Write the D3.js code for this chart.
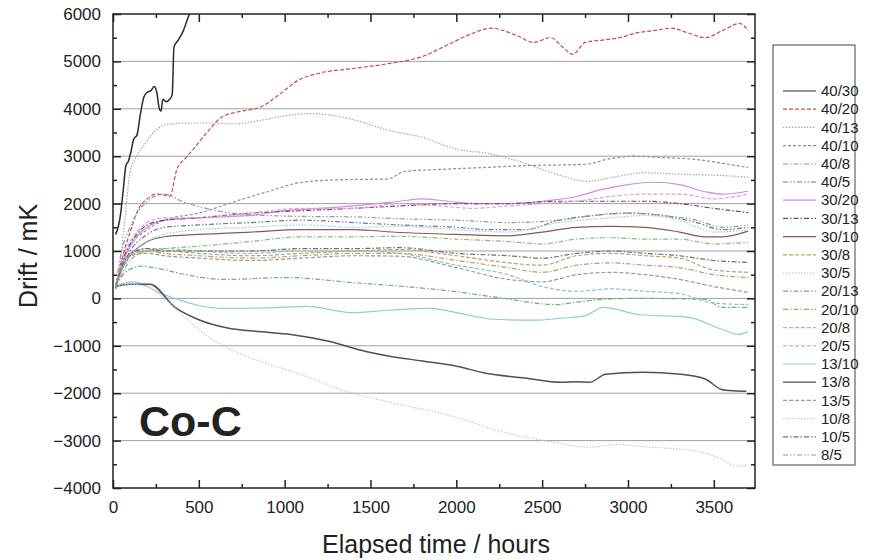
<!DOCTYPE html>
<html>
<head>
<meta charset="utf-8">
<script src="https://cdn.jsdelivr.net/npm/d3@7"></script>
<style>
  body { margin: 0; background: #fff; }
  text { font-family: "Liberation Sans", Arial, sans-serif; fill: #222; }
</style>
</head>
<body>
<div id="chart"></div>
<script>
// legend labels, in legend order
const labels = ["40/30", "40/20", "40/13", "40/10", "40/8", "40/5", "30/20", "30/13", "30/10", "30/8",
  "30/5", "20/13", "20/10", "20/8", "20/5", "13/10", "13/8", "13/5", "10/8", "10/5", "8/5"];

const xTicks = [0, 500, 1000, 1500, 2000, 2500, 3000, 3500];
const yTicks = [-4000, -3000, -2000, -1000, 0, 1000, 2000, 3000, 4000, 5000, 6000];

// [hours, drift mK]
const s40_30 = [[15,1350],[30,1500],[45,1800],[60,2300],[75,2800],[90,2900],[105,3100],[120,3350],[140,3450],[160,3900],[180,4250],[200,4350],[220,4380],[240,4470],[255,4350],[270,4000],[280,3950],[290,4200],[310,4150],[330,4200],[345,4300],[355,5300],[380,5450],[410,5650],[430,5850],[445,6000],[460,6150]];
const s40_20 = [[15,200],[50,800],[100,1400],[150,1900],[200,2100],[250,2200],[300,2180],[330,2150],[372,2720],[420,2950],[466,3140],[547,3500],[640,3840],[750,3950],[855,4030],[950,4250],[1088,4620],[1200,4750],[1400,4850],[1600,4950],[1800,5100],[1950,5350],[2100,5600],[2200,5700],[2350,5550],[2450,5400],[2550,5500],[2620,5300],[2680,5150],[2750,5400],[2850,5450],[2950,5500],[3050,5600],[3150,5650],[3250,5700],[3350,5600],[3450,5500],[3550,5650],[3650,5800],[3700,5650]];
const s40_13 = [[15,200],[40,700],[70,1700],[99,2650],[130,2950],[175,3200],[256,3570],[314,3670],[450,3700],[600,3700],[700,3680],[850,3750],[1000,3850],[1150,3900],[1300,3850],[1450,3720],[1600,3550],[1800,3400],[2000,3150],[2200,3050],[2400,2850],[2600,2600],[2760,2470],[2900,2550],[3100,2650],[3300,2620],[3500,2600],[3700,2560]];
const s40_10 = [[15,200],[50,700],[100,1100],[200,1450],[300,1650],[500,1800],[750,2090],[900,2250],[1100,2450],[1300,2500],[1600,2520],[1700,2680],[1900,2720],[2150,2760],[2400,2800],[2750,2830],[2900,2950],[3030,3000],[3200,2970],[3400,2930],[3550,2850],[3700,2760]];
const s40_8 = [[15,250],[50,500],[100,800],[200,1000],[300,1050],[500,1100],[800,1200],[1100,1300],[1400,1300],[1670,1310],[2000,1250],[2300,1200],[2500,1150],[2700,1250],[2900,1280],[3100,1250],[3300,1250],[3500,1150],[3700,1180]];
const s40_5 = [[15,250],[50,650],[100,1000],[200,1350],[300,1500],[500,1550],[800,1600],[1100,1650],[1400,1600],[1670,1550],[2000,1500],[2200,1450],[2400,1450],[2600,1650],[2800,1750],[3000,1800],[3200,1750],[3400,1600],[3550,1450],[3700,1500]];
const s30_20 = [[15,250],[50,700],[100,1100],[150,1350],[200,1500],[300,1650],[500,1700],[800,1750],[1000,1850],[1200,1900],[1400,1950],[1670,2050],[1800,2100],[1950,2050],[2100,2000],[2300,2000],[2500,2050],[2700,2150],[2850,2300],[3000,2400],[3150,2450],[3300,2400],[3450,2250],[3550,2200],[3700,2260]];
const s30_13 = [[15,250],[50,750],[100,1150],[150,1400],[200,1550],[300,1650],[500,1700],[800,1800],[1100,1850],[1400,1900],[1670,1950],[2000,2000],[2300,2000],[2600,2050],[2900,2050],[3100,2050],[3300,2000],[3500,1900],[3700,1810]];
const s30_10 = [[15,250],[50,600],[100,900],[200,1200],[300,1300],[500,1350],[800,1400],[1100,1450],[1400,1450],[1670,1390],[2000,1350],[2300,1320],[2500,1400],[2700,1500],[2900,1520],[3100,1500],[3300,1400],[3450,1300],[3550,1300],[3700,1420]];
const s30_8 = [[15,250],[50,600],[100,900],[200,1000],[300,1000],[500,950],[800,900],[1100,950],[1400,1000],[1670,1030],[2000,900],[2300,750],[2500,700],[2700,900],[2900,950],[3100,900],[3300,850],[3500,600],[3700,550]];
const s30_5 = [[15,250],[50,600],[100,900],[200,1200],[300,1350],[500,1450],[800,1500],[1100,1550],[1400,1500],[1670,1520],[2000,1450],[2300,1400],[2600,1600],[2900,1700],[3100,1750],[3300,1650],[3500,1400],[3700,1450]];
const s20_13 = [[15,250],[60,500],[120,650],[163,680],[250,640],[400,520],[646,400],[1013,440],[1200,400],[1373,340],[1700,250],[1979,150],[2241,20],[2578,-130],[2700,-80],[2846,-20],[3061,0],[3452,-20],[3545,-190],[3700,-190]];
const s20_10 = [[15,250],[50,650],[100,950],[200,1000],[300,950],[500,900],[800,850],[1100,900],[1400,950],[1670,950],[2000,800],[2300,650],[2500,550],[2700,700],[2900,750],[3100,700],[3300,650],[3500,500],[3700,440]];
const s20_8 = [[15,250],[50,650],[100,950],[200,1050],[300,1050],[500,1000],[800,950],[1100,1000],[1400,1000],[1670,950],[2000,700],[2300,500],[2500,250],[2700,150],[2900,200],[3100,150],[3300,100],[3500,-100],[3700,-130]];
const s20_5 = [[15,250],[50,800],[100,1200],[150,1450],[200,1600],[300,1700],[500,1700],[800,1800],[1100,1900],[1400,1900],[1670,2000],[1900,1950],[2100,1900],[2300,1950],[2500,2000],[2700,2050],[2900,2150],[3100,2200],[3300,2200],[3500,2100],[3700,2200]];
const s13_10 = [[15,250],[60,320],[120,350],[200,250],[280,100],[361,0],[500,-150],[646,-210],[900,-200],[1129,-170],[1397,-300],[1600,-250],[1857,-210],[2000,-300],[2218,-440],[2462,-460],[2600,-420],[2747,-370],[2858,-190],[3061,-340],[3353,-400],[3545,-650],[3644,-760],[3700,-700]];
const s13_8 = [[15,250],[100,300],[215,300],[361,-190],[500,-450],[675,-630],[850,-700],[1036,-760],[1250,-900],[1473,-1120],[1612,-1220],[1800,-1320],[2002,-1430],[2171,-1580],[2400,-1680],[2608,-1770],[2700,-1760],[2776,-1770],[2870,-1600],[3085,-1560],[3306,-1600],[3450,-1700],[3545,-1920],[3620,-1950],[3690,-1960]];
const s13_5 = [[15,250],[50,600],[100,900],[200,950],[300,900],[500,850],[800,800],[1100,850],[1400,900],[1670,890],[2000,650],[2300,400],[2500,350],[2700,500],[2900,550],[3100,500],[3300,400],[3500,250],[3700,130]];
const s10_8 = [[15,250],[100,300],[200,250],[285,40],[407,-360],[550,-800],[646,-1010],[722,-1140],[900,-1380],[1059,-1560],[1373,-1980],[1612,-2190],[1979,-2490],[2264,-2810],[2578,-3040],[2776,-3140],[2945,-3080],[3061,-3120],[3405,-3230],[3550,-3400],[3620,-3540],[3690,-3520]];
const s10_5 = [[15,250],[50,650],[100,950],[200,1050],[300,1000],[500,1000],[800,1000],[1100,1050],[1400,1050],[1670,1070],[2000,950],[2300,900],[2500,850],[2700,950],[2900,1000],[3100,950],[3300,900],[3500,800],[3700,760]];
const s8_5 = [[15,250],[50,1000],[100,1500],[150,1850],[200,2050],[300,2200],[400,2050],[565,1880],[780,1770],[1100,1730],[1400,1720],[1670,1680],[2000,1650],[2300,1600],[2600,1650],[2800,1750],[3000,1800],[3200,1750],[3400,1650],[3550,1500],[3700,1550]];

const seriesData = [s40_30, s40_20, s40_13, s40_10, s40_8, s40_5, s30_20, s30_13, s30_10, s30_8,
  s30_5, s20_13, s20_10, s20_8, s20_5, s13_10, s13_8, s13_5, s10_8, s10_5, s8_5];

// styles per series
const colors = ["#2b2b2b", "#c0504d", "#a8a8a8", "#9a8aa0", "#8dbb88", "#6b7a90", "#d08ee0", "#6c4a86", "#8a5a4c", "#b8a46a",
  "#a9c3d8", "#6fae8f", "#c49a6c", "#86c3c9", "#e8a0c8", "#8fcbe0", "#4a4f66", "#9a9a9a", "#c8c8c8", "#707070", "#9a9a9a"];
const dashes = ["none", "4,2", "1.5,1.5", "3,2", "5,2,1.5,2", "5,2,1.5,2,1.5,2", "none", "5,2,1.5,2", "none", "4,2",
  "1.5,1.5", "5,2,1.5,2", "5,2,1.5,2", "4,2", "4,2", "none", "none", "4,2", "1.5,1.5", "5,2,1.5,2", "5,2,1.5,2,1.5,2"];

const W = 869, H = 560;
const margin = { top: 14, right: 114, bottom: 72, left: 113 },
  width = W - margin.left - margin.right,
  height = H - margin.top - margin.bottom;

const svg = d3.select("#chart")
  .append("svg")
  .attr("width", W)
  .attr("height", H);

const g = svg.append("g")
  .attr("transform", "translate(" + margin.left + "," + margin.top + ")");

const x = d3.scaleLinear().domain([0, 3740]).range([0, width]);
const y = d3.scaleLinear().domain([-4000, 6000]).range([height, 0]);

// horizontal grid
g.append("g")
  .selectAll("line")
  .data(yTicks.slice(1, -1))
  .join("line")
  .attr("x1", 0).attr("x2", width)
  .attr("y1", d => y(d)).attr("y2", d => y(d))
  .attr("stroke", "#a0a0a0")
  .attr("stroke-width", 1);

// clip for the lines
svg.append("defs").append("clipPath").attr("id", "plot")
  .append("rect").attr("width", width).attr("height", height);

const line = d3.line()
  .curve(d3.curveMonotoneX)
  .x(d => x(d[0]))
  .y(d => y(d[1]));

g.append("g")
  .attr("clip-path", "url(#plot)")
  .selectAll("path")
  .data(seriesData)
  .join("path")
  .attr("fill", "none")
  .attr("stroke", (d, i) => colors[i])
  .attr("stroke-width", (d, i) => (i === 0 || i === 16) ? 1.5 : 1.2)
  .attr("stroke-dasharray", (d, i) => dashes[i])
  .attr("d", line);

// axes, ticks inward
const xMinor = d3.range(250, 3740, 500);
const yMinor = d3.range(-3500, 6000, 1000);

function styleAxis(sel) {
  sel.select(".domain").remove();
  sel.selectAll("line").attr("stroke", "#222").attr("stroke-width", 1.5);
  sel.selectAll("text")
    .style("font-size", "17px")
    .style("font-family", "'Liberation Sans', Arial, sans-serif")
    .attr("fill", "#222");
}

g.append("g")
  .attr("transform", "translate(0," + height + ")")
  .call(d3.axisBottom(x).tickValues(xTicks).tickSizeInner(-8).tickPadding(13).tickFormat(d3.format("d")))
  .call(styleAxis);
g.append("g")
  .attr("transform", "translate(0," + height + ")")
  .call(d3.axisBottom(x).tickValues(xMinor).tickSize(-4).tickFormat(""))
  .call(styleAxis);
g.append("g")
  .call(d3.axisTop(x).tickValues(xTicks).tickSize(-8).tickFormat(""))
  .call(styleAxis);
g.append("g")
  .call(d3.axisTop(x).tickValues(xMinor).tickSize(-4).tickFormat(""))
  .call(styleAxis);

g.append("g")
  .call(d3.axisLeft(y).tickValues(yTicks).tickSizeInner(-8).tickPadding(12).tickFormat(d3.format("d")))
  .call(styleAxis);
g.append("g")
  .call(d3.axisLeft(y).tickValues(yMinor).tickSize(-4).tickFormat(""))
  .call(styleAxis);
g.append("g")
  .attr("transform", "translate(" + width + ",0)")
  .call(d3.axisRight(y).tickValues(yTicks).tickSize(-8).tickFormat(""))
  .call(styleAxis);
g.append("g")
  .attr("transform", "translate(" + width + ",0)")
  .call(d3.axisRight(y).tickValues(yMinor).tickSize(-4).tickFormat(""))
  .call(styleAxis);

// frame
g.append("rect")
  .attr("width", width).attr("height", height)
  .attr("fill", "none")
  .attr("stroke", "#222")
  .attr("stroke-width", 1.5);

// axis titles
svg.append("text")
  .attr("x", margin.left + width / 2 + 2)
  .attr("y", 553)
  .attr("text-anchor", "middle")
  .style("font-size", "25px")
  .text("Elapsed time / hours");

svg.append("text")
  .attr("transform", "translate(37,256) rotate(-90)")
  .attr("text-anchor", "middle")
  .style("font-size", "25px")
  .text("Drift / mK");

// material label
svg.append("text")
  .attr("x", 139)
  .attr("y", 436)
  .style("font-size", "43px")
  .style("font-weight", "bold")
  .attr("fill", "#000")
  .text("Co-C");

// legend
const legend = svg.append("g").attr("transform", "translate(773,45)");
legend.append("rect")
  .attr("width", 82).attr("height", 420)
  .attr("fill", "#fff")
  .attr("stroke", "#444")
  .attr("stroke-width", 1);

const item = legend.selectAll("g.item")
  .data(labels)
  .join("g")
  .attr("class", "item")
  .attr("transform", (d, i) => "translate(0," + (46 + i * 18.2) + ")");
item.append("line")
  .attr("x1", 10).attr("x2", 43)
  .attr("stroke", (d, i) => colors[i])
  .attr("stroke-width", 1.2)
  .attr("stroke-dasharray", (d, i) => dashes[i]);
item.append("text")
  .attr("x", 48)
  .attr("dy", "0.35em")
  .style("font-size", "15px")
  .text(d => d);
</script>
</body>
</html>
